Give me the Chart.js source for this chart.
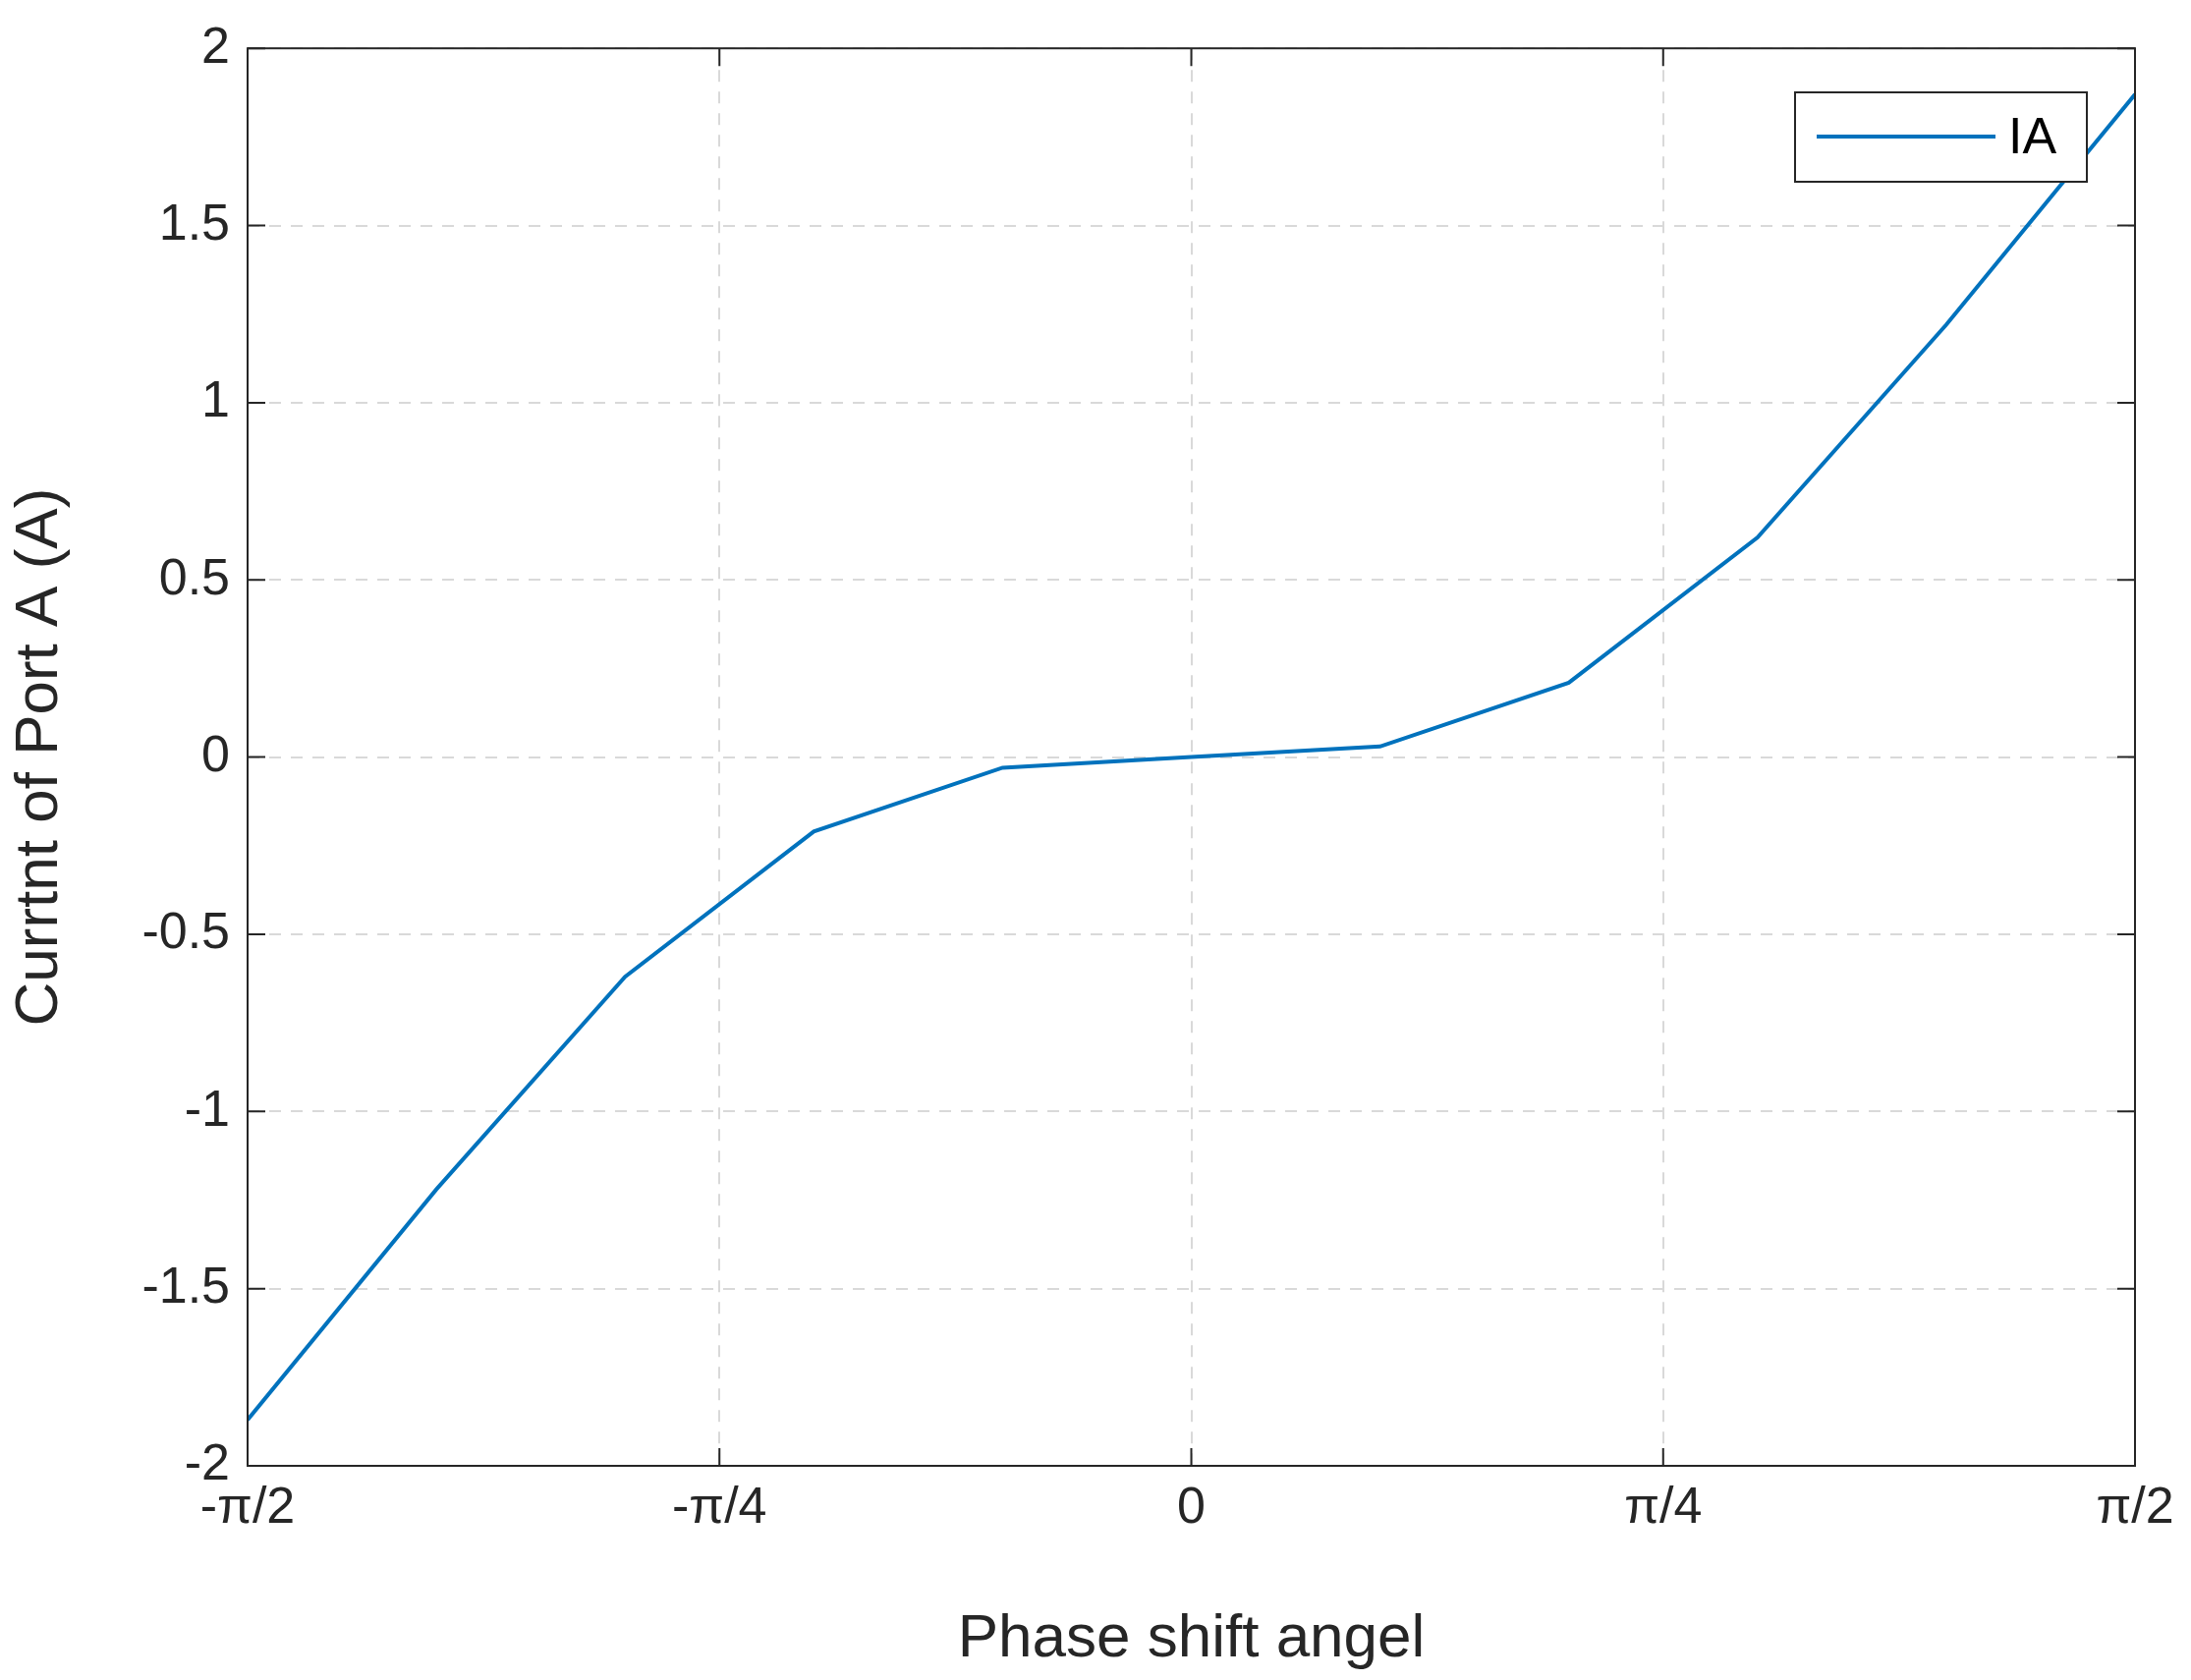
<!DOCTYPE html>
<html><head><meta charset="utf-8">
<script src="https://cdn.jsdelivr.net/npm/chart.js@4/dist/chart.umd.min.js"></script>
<style>html,body{margin:0;padding:0;background:#fff}#w{width:2230px;height:1710px}</style>
</head><body><div id="w"><canvas id="c" width="2230" height="1710"></canvas></div>
<script>
const phaseFractionsOfPi = [-0.5,-0.4,-0.3,-0.2,-0.1,0,0.1,0.2,0.3,0.4,0.5];
const currentIA = [-1.87,-1.22,-0.62,-0.21,-0.03,0,0.03,0.21,0.62,1.22,1.87];
const xTickLabels = {"-0.5":"-π/2","-0.25":"-π/4","0":"0","0.25":"π/4","0.5":"π/2"};
const seriesName = "IA";
const FONT = "'Liberation Sans', Arial, sans-serif";
const frame = {
  id:'frame',
  afterDraw(ch){
    const {ctx, chartArea:a} = ch;
    ctx.save();
    ctx.strokeStyle='#262626'; ctx.lineWidth=2;
    ctx.strokeRect(a.left,a.top,a.right-a.left,a.bottom-a.top);
    const xs=ch.scales.x, ys=ch.scales.y;
    ctx.beginPath();
    xs.ticks.forEach(t=>{const p=xs.getPixelForValue(t.value);ctx.moveTo(p,a.bottom);ctx.lineTo(p,a.bottom-18);ctx.moveTo(p,a.top);ctx.lineTo(p,a.top+18);});
    ys.ticks.forEach(t=>{const p=ys.getPixelForValue(t.value);ctx.moveTo(a.left,p);ctx.lineTo(a.left+18,p);ctx.moveTo(a.right,p);ctx.lineTo(a.right-18,p);});
    ctx.stroke();
    ctx.fillStyle='#fff'; ctx.fillRect(1827,94,297,91);
    ctx.strokeStyle='#262626'; ctx.lineWidth=2; ctx.strokeRect(1827,94,297,91);
    ctx.strokeStyle='#0072BD'; ctx.lineWidth=4;
    ctx.beginPath(); ctx.moveTo(1849,139); ctx.lineTo(2031,139); ctx.stroke();
    ctx.fillStyle='#000'; ctx.font='52px '+FONT; ctx.textBaseline='middle';
    ctx.fillText(seriesName,2044,142);
    ctx.restore();
  }
};
new Chart(document.getElementById('c'),{
  type:'line',
  data:{datasets:[{label:seriesName,data:phaseFractionsOfPi.map((x,i)=>({x,y:currentIA[i]})),
    borderColor:'#0072BD',borderWidth:4,pointRadius:0,tension:0,fill:false}]},
  options:{
    responsive:false,animation:false,devicePixelRatio:1,
    layout:{padding:{top:44,right:57,left:0,bottom:0}},
    plugins:{legend:{display:false},tooltip:{enabled:false}},
    scales:{
      x:{type:'linear',min:-0.5,max:0.5,
        afterFit(s){s.height=218;},
        ticks:{stepSize:0.25,autoSkip:false,maxRotation:0,color:'#262626',font:{family:FONT,size:52},padding:12,
          callback:v=>xTickLabels[String(v)]??''},
        grid:{color:'#d9d9d9',lineWidth:2,tickLength:0,drawTicks:false},border:{display:false,dash:[12,10]},
        title:{display:true,text:'Phase shift angel',color:'#262626',font:{family:FONT,size:62},padding:{top:8}}},
      y:{min:-2,max:2,
        afterFit(s){s.width=252;},
        ticks:{stepSize:0.5,color:'#262626',font:{family:FONT,size:52},padding:18,callback:v=>String(Math.round(v*10)/10)},
        grid:{color:'#d9d9d9',lineWidth:2,drawTicks:false},border:{display:false,dash:[12,10]},
        title:{display:true,text:'Currtnt of Port A (A)',color:'#262626',font:{family:FONT,size:62},padding:{bottom:10}}}
    }
  },
  plugins:[frame]
});
</script></body></html>
